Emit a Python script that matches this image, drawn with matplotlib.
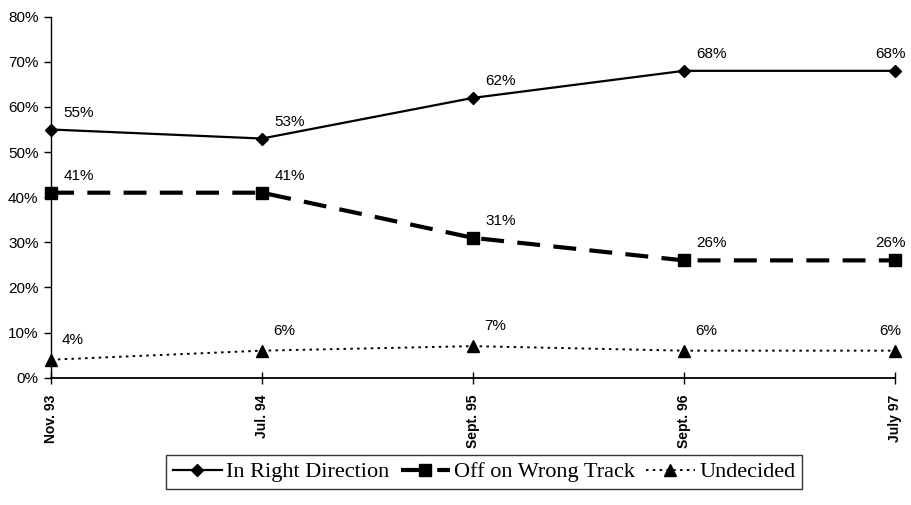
import numpy as np
import matplotlib.pyplot as plt

### data
periods = ['Nov. 93', 'Jul. 94', 'Sept. 95', 'Sept. 96', 'July 97']
right_dir = [55, 53, 62, 68, 68]
wrong_track = [41, 41, 31, 26, 26]
undecided = [4, 6, 7, 6, 6]
y_ticks = [0, 10, 20, 30, 40, 50, 60, 70, 80]

sans = 'Liberation Sans'
serif = 'Liberation Serif'

fig = plt.figure(figsize=(9.12, 5.05), dpi=100)
ax = fig.add_axes([0.056, 0.252, 0.925, 0.715])

x = np.arange(len(periods))

l1, = ax.plot(x, right_dir, color='k', lw=1.6, marker='D', ms=6,
              clip_on=False, zorder=3)
l2, = ax.plot(x, wrong_track, color='k', lw=3.0, marker='s', ms=8,
              dashes=(5.5, 3.2), clip_on=False, zorder=3)
l3, = ax.plot(x, undecided, color='k', lw=1.4, marker='^', ms=8,
              dashes=(1.3, 2.2), clip_on=False, zorder=3)

## value labels, above right of each point
for series, dy in [(right_dir, 17), (wrong_track, 17), (undecided, 20)]:
    for i, v in enumerate(series):
        dx = 28 if series is not undecided else 22
        if i == len(series) - 1:
            dx = -4
        ax.annotate('%d%%' % v, (x[i], v), xytext=(dx, dy),
                    textcoords='offset pixels', ha='center', va='center',
                    fontsize=11, family=sans)

ax.set_xlim(0, len(periods) - 1)
ax.set_ylim(0, 80)
ax.set_yticks(y_ticks)
ax.set_yticklabels(['%d%%' % t for t in y_ticks], family=sans, fontsize=11)
ax.set_xticks(x)
ax.set_xticklabels(periods, rotation=90, family=sans, fontweight='bold',
                   fontsize=10)

ax.spines['top'].set_visible(False)
ax.spines['right'].set_visible(False)
ax.spines['left'].set_linewidth(1.0)
ax.spines['bottom'].set_linewidth(1.3)
ax.tick_params(axis='y', direction='out', length=5, width=1, pad=4)
ax.tick_params(axis='x', direction='inout', length=8, width=1, pad=8)

leg = fig.legend([l1, l2, l3],
                 ['In Right Direction', 'Off on Wrong Track', 'Undecided'],
                 loc='center', bbox_to_anchor=(0.531, 0.065), ncol=3,
                 frameon=True, fancybox=False, edgecolor='k',
                 prop={'family': serif, 'size': 16},
                 handlelength=2.2, handletextpad=0.2, columnspacing=0.5,
                 borderpad=0.3)
leg.get_frame().set_linewidth(1.0)

fig.savefig('out.png', dpi=100)
